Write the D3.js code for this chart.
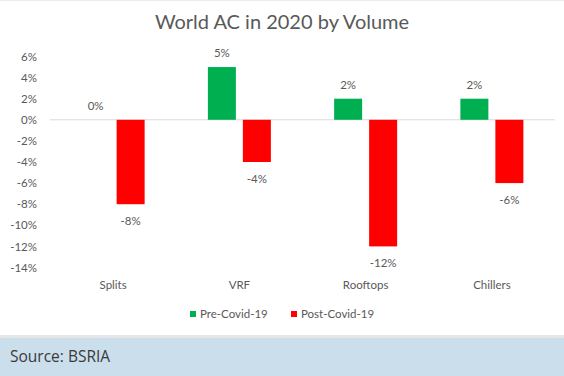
<!DOCTYPE html>
<html>
<head>
<meta charset="utf-8">
<script src="https://cdn.jsdelivr.net/npm/d3@7"></script>
<style>
  body { margin: 0; background: #fff; }
  svg { display: block; }
</style>
</head>
<body>
<svg id="chart" width="564" height="376"></svg>
<script>
// chart data
const categories = ["Splits", "VRF", "Rooftops", "Chillers"];
const seriesNames = ["Pre-Covid-19", "Post-Covid-19"];
const preCovid = [0, 5, 2, 2];
const postCovid = [-8, -4, -12, -6];
const yTicks = [6, 4, 2, 0, -2, -4, -6, -8, -10, -12, -14];
const colors = ["#00b050", "#ff0000"];

const svg = d3.select("#chart");
const font = "Lato, 'Open Sans', sans-serif";

// frame + caption band
svg.append("rect").attr("x", 0).attr("y", 0).attr("width", 564).attr("height", 1).attr("fill", "#ececec");
svg.append("rect").attr("x", 0).attr("y", 335).attr("width", 564).attr("height", 3).attr("fill", "#e6e6e6");
svg.append("rect").attr("x", 0).attr("y", 338).attr("width", 564).attr("height", 38).attr("fill", "#cadeeb");
svg.append("text")
  .attr("x", 10).attr("y", 362)
  .style("font-family", "'Open Sans', sans-serif")
  .style("font-size", "15.5px")
  .attr("fill", "#3a3a3a")
  .text("Source: BSRIA");

// title
svg.append("text")
  .attr("x", 282).attr("y", 29)
  .attr("text-anchor", "middle")
  .style("font-family", font)
  .style("font-size", "20px")
  .attr("fill", "#595959")
  .text("World AC in 2020 by Volume");

// scales
const x = d3.scaleBand().domain(categories).range([50, 555]);
const y = d3.scaleLinear().domain([-14, 6]).range([267.5, 56.5]);
const barW = 28, gap = 7;

// y axis labels
const yAxis = svg.append("g")
  .attr("transform", "translate(40,0)")
  .call(d3.axisLeft(y).tickValues(yTicks).tickSize(0).tickPadding(3).tickFormat(d => d + "%"));
yAxis.select(".domain").remove();
yAxis.selectAll("text")
  .style("font-family", font)
  .style("font-size", "11.5px")
  .attr("fill", "#595959");

// zero line
svg.append("line")
  .attr("x1", 50).attr("x2", 555)
  .attr("y1", y(0)).attr("y2", y(0))
  .attr("stroke", "#d9d9d9").attr("stroke-width", 1);

// bars
const rows = [];
categories.forEach((c, i) => {
  rows.push({ cat: c, s: 0, v: preCovid[i] });
  rows.push({ cat: c, s: 1, v: postCovid[i] });
});
const barX = d => x(d.cat) + x.bandwidth() / 2 + (d.s === 0 ? -gap / 2 - barW : gap / 2);

svg.selectAll("rect.bar")
  .data(rows.filter(d => d.v !== 0))
  .join("rect")
  .attr("class", "bar")
  .attr("x", barX)
  .attr("width", barW)
  .attr("y", d => y(Math.max(0, d.v)))
  .attr("height", d => Math.abs(y(d.v) - y(0)))
  .attr("fill", d => colors[d.s]);

// data labels
svg.selectAll("text.lbl")
  .data(rows)
  .join("text")
  .attr("class", "lbl")
  .attr("x", d => barX(d) + barW / 2)
  .attr("y", d => d.v >= 0 ? y(d.v) - 10 : y(d.v) + 21)
  .attr("text-anchor", "middle")
  .style("font-family", font)
  .style("font-size", "11.5px")
  .attr("fill", "#595959")
  .text(d => d.v + "%");

// category labels
const xAxis = svg.append("g")
  .attr("transform", "translate(0,278)")
  .call(d3.axisBottom(x).tickSize(0).tickPadding(3));
xAxis.select(".domain").remove();
xAxis.selectAll("text")
  .style("font-family", font)
  .style("font-size", "11.5px")
  .attr("fill", "#595959");

// legend
const legendX = [190, 291];
const legend = svg.selectAll("g.legend")
  .data(seriesNames)
  .join("g")
  .attr("class", "legend")
  .attr("transform", (d, i) => `translate(${legendX[i]},311)`);
legend.append("rect").attr("width", 6).attr("height", 6).attr("fill", (d, i) => colors[i]);
legend.append("text")
  .attr("x", 10).attr("y", 7)
  .style("font-family", font)
  .style("font-size", "11.5px")
  .attr("fill", "#595959")
  .text(d => d);
</script>
</body>
</html>
